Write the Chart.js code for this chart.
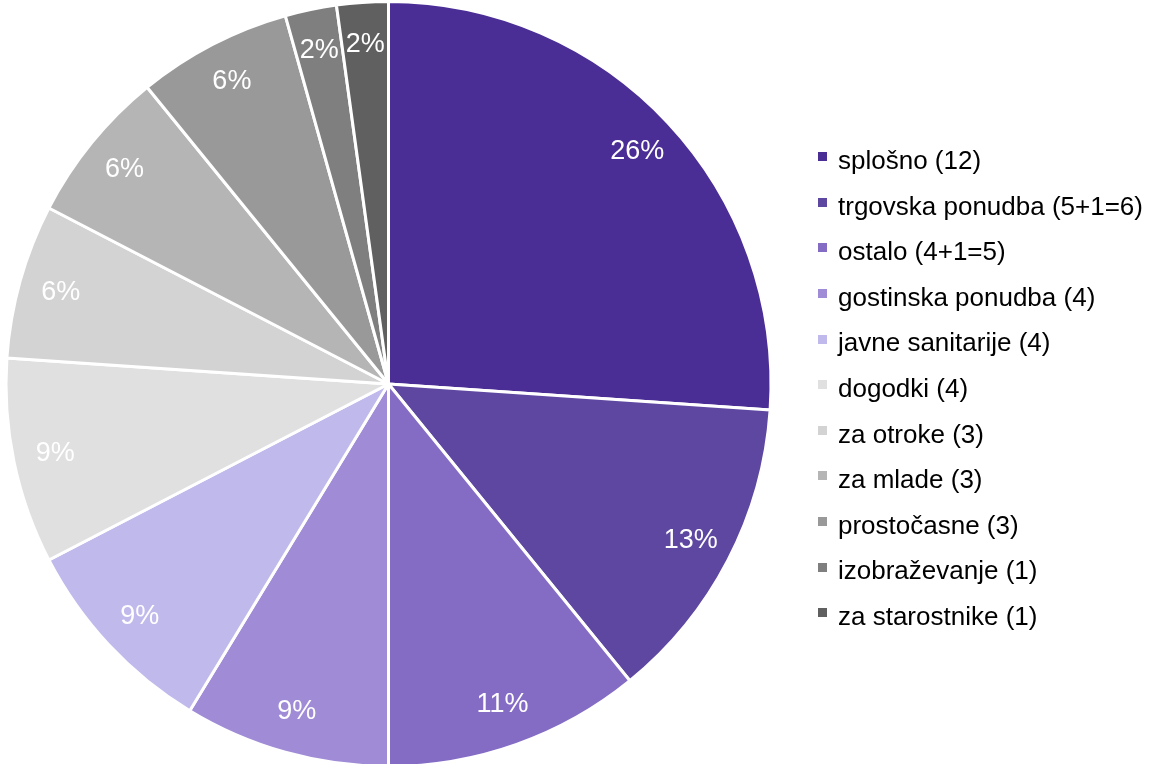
<!DOCTYPE html>
<html>
<head>
<meta charset="utf-8">
<script src="https://cdn.jsdelivr.net/npm/chart.js@4/dist/chart.umd.min.js"></script>
<style>
body{margin:0;background:#fff}
#wrap{position:relative;width:1160px;height:764px;overflow:hidden}
#legend{position:absolute;left:818px;top:138px;font-family:'Liberation Sans',Arial,sans-serif;font-size:26px;color:#000}
.item{height:45.6px;line-height:45.6px;display:flex;align-items:center;white-space:nowrap}
.box{width:9px;height:9px;margin-right:11px;position:relative;top:-4px}
</style>
</head>
<body>
<div id="wrap">
<canvas id="c" width="1160" height="768"></canvas>
<div id="legend"></div>
</div>
<script>
var labels = ['splošno (12)','trgovska ponudba (5+1=6)','ostalo (4+1=5)','gostinska ponudba (4)','javne sanitarije (4)','dogodki (4)','za otroke (3)','za mlade (3)','prostočasne (3)','izobraževanje (1)','za starostnike (1)']
var values = [12,6,5,4,4,4,3,3,3,1,1]
var pctLabels = ['26%','13%','11%','9%','9%','9%','6%','6%','6%','2%','2%']
var colors = ['#4b2d96','#5e47a1','#846cc4','#a08bd6','#c0b9ec','#e0e0e0','#d3d3d3','#b5b5b5','#999999','#7f7f7f','#606060']

// legenda
var legend = document.getElementById('legend')
labels.forEach(function(l, i){
    var row = document.createElement('div')
    row.className = 'item'
    row.innerHTML = '<span class="box" style="background:' + colors[i] + '"></span><span>' + l + '</span>'
    legend.appendChild(row)
})

// procenti na rezinah
const pctPlugin = {
    id: 'pct',
    afterDatasetsDraw(chart){
        const ctx = chart.ctx
        const meta = chart.getDatasetMeta(0)
        ctx.save()
        ctx.fillStyle = '#fff'
        ctx.font = '27px "Liberation Sans", Arial, sans-serif'
        ctx.textAlign = 'center'
        ctx.textBaseline = 'middle'
        meta.data.forEach(function(arc, i){
            const a = (arc.startAngle + arc.endAngle) / 2
            const r = arc.outerRadius * 0.89
            ctx.fillText(pctLabels[i], arc.x + Math.cos(a) * r, arc.y + Math.sin(a) * r)
        })
        ctx.restore()
    }
}

const myChart = new Chart(document.getElementById('c').getContext('2d'), {
    type: 'pie',
    data: {
        labels: labels,
        datasets: [{
            data: values,
            backgroundColor: colors,
            borderColor: '#fff',
            borderWidth: 3
        }]
    },
    options: {
        responsive: false,
        animation: false,
        layout: {
            padding: {left: 4.5, top: 0, right: 387.5, bottom: 0}
        },
        plugins: {
            legend: {display: false},
            tooltip: {enabled: false}
        }
    },
    plugins: [pctPlugin]
})
</script>
</body>
</html>
